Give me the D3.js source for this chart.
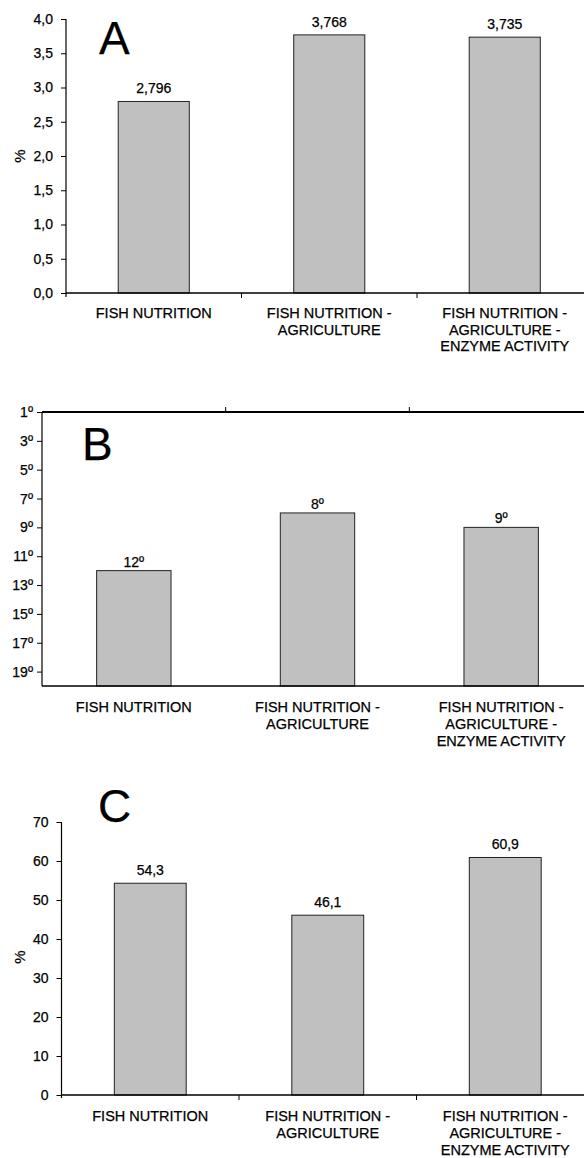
<!DOCTYPE html>
<html>
<head>
<meta charset="utf-8">
<script src="https://cdn.jsdelivr.net/npm/d3@7"></script>
<style>
html,body{margin:0;padding:0;background:#fff;}
svg{display:block;font-family:"Liberation Sans",Arial,sans-serif;}
svg text{stroke:#000;stroke-width:0.25px;}
</style>
</head>
<body>
<svg id="c" width="584" height="1158"></svg>
<script>
const categories = ["FISH NUTRITION", "FISH NUTRITION - AGRICULTURE", "FISH NUTRITION - AGRICULTURE - ENZYME ACTIVITY"];
const categoryLines = [["FISH NUTRITION"], ["FISH NUTRITION -", "AGRICULTURE"], ["FISH NUTRITION -", "AGRICULTURE -", "ENZYME ACTIVITY"]];
const valuesA = [2.796, 3.768, 3.735];
const labelsA = ["2,796", "3,768", "3,735"];
const ticksA = [0, 0.5, 1, 1.5, 2, 2.5, 3, 3.5, 4];
const tickLabelsA = ["0,0", "0,5", "1,0", "1,5", "2,0", "2,5", "3,0", "3,5", "4,0"];
const valuesB = [12, 8, 9];
const labelsB = ["12º", "8º", "9º"];
const ticksB = [1, 3, 5, 7, 9, 11, 13, 15, 17, 19];
const tickLabelsB = ["1º", "3º", "5º", "7º", "9º", "11º", "13º", "15º", "17º", "19º"];
const valuesC = [54.3, 46.1, 60.9];
const labelsC = ["54,3", "46,1", "60,9"];
const ticksC = [0, 10, 20, 30, 40, 50, 60, 70];
const tickLabelsC = ["0", "10", "20", "30", "40", "50", "60", "70"];

const svg = d3.select("#c");
const FS = 14;
const CAT_FS = 14.5;
const BAR_FRAC = 0.405;

function drawPanel(cfg) {
  const g = svg.append("g");
  const x = d3.scaleBand().domain(categories).range(cfg.xRange).padding(0);
  const y = d3.scaleLinear().domain(cfg.yDomain).range(cfg.yRange);
  const bw = x.bandwidth() * BAR_FRAC;

  // bars
  g.selectAll("rect.bar").data(cfg.values).enter().append("rect")
    .attr("x", (d, i) => x(categories[i]) + (x.bandwidth() - bw) / 2)
    .attr("width", bw)
    .attr("y", d => Math.min(y(d), y(cfg.base)))
    .attr("height", d => Math.abs(y(cfg.base) - y(d)))
    .attr("fill", "#c0c0c0")
    .attr("stroke", "#222")
    .attr("stroke-width", 1);

  // value labels
  g.selectAll("text.val").data(cfg.values).enter().append("text")
    .attr("x", (d, i) => x(categories[i]) + x.bandwidth() / 2)
    .attr("y", d => y(d) - cfg.valGap)
    .attr("text-anchor", "middle")
    .attr("font-size", FS)
    .attr("fill", "#000")
    .text((d, i) => cfg.labels[i]);

  // y axis
  const yAxis = d3.axisLeft(y).tickValues(cfg.ticks).tickSize(5).tickPadding(cfg.tickPad)
    .tickFormat((d, i) => cfg.tickLabels[i]);
  const ya = g.append("g").attr("transform", `translate(${cfg.xRange[0]},0)`).call(yAxis);
  ya.select(".domain").remove();
  ya.selectAll(".tick line").attr("stroke", "#000");
  ya.selectAll(".tick text").attr("font-size", FS).attr("fill", "#000")
    .attr("font-family", "Liberation Sans, Arial, sans-serif");
  g.append("line")
    .attr("x1", cfg.xRange[0]).attr("x2", cfg.xRange[0])
    .attr("y1", cfg.yAxisTop).attr("y2", cfg.yAxisBottom)
    .attr("stroke", "#000").attr("stroke-width", 1.2);

  // x axis line(s)
  const xAxisY = y(cfg.base);
  g.append("line")
    .attr("x1", cfg.xRange[0]).attr("x2", 584)
    .attr("y1", xAxisY).attr("y2", xAxisY)
    .attr("stroke", "#000").attr("stroke-width", 1.5);
  const bounds = categories.slice(1).map(c => x(c));
  if (cfg.topLine) {
    const ty = y(cfg.yDomain[0]);
    g.append("line")
      .attr("x1", cfg.xRange[0]).attr("x2", 584)
      .attr("y1", ty).attr("y2", ty)
      .attr("stroke", "#000").attr("stroke-width", 2);
    g.selectAll("line.tt").data(bounds).enter().append("line")
      .attr("x1", d => d).attr("x2", d => d)
      .attr("y1", ty).attr("y2", ty - 5)
      .attr("stroke", "#000").attr("stroke-width", 1);
  } else {
    g.selectAll("line.bt").data(bounds).enter().append("line")
      .attr("x1", d => d).attr("x2", d => d)
      .attr("y1", xAxisY).attr("y2", xAxisY + 5)
      .attr("stroke", "#000").attr("stroke-width", 1);
  }

  // category labels
  categoryLines.forEach((lines, i) => {
    const cx = x(categories[i]) + x.bandwidth() / 2;
    const t = g.append("text")
      .attr("text-anchor", "middle")
      .attr("font-size", CAT_FS)
      .attr("fill", "#000");
    lines.forEach((ln, j) => {
      t.append("tspan").attr("x", cx)
        .attr("y", cfg.catY + j * cfg.lineH)
        .text(ln);
    });
  });

  // % label
  if (cfg.unit) {
    g.append("text")
      .attr("transform", `translate(${cfg.unit[0]},${cfg.unit[1]}) rotate(-90)`)
      .attr("text-anchor", "middle")
      .attr("dominant-baseline", "central")
      .attr("font-size", 15)
      .text("%");
  }

  // panel letter
  g.append("text")
    .attr("x", cfg.letter[1]).attr("y", cfg.letter[2])
    .attr("font-size", 46)
    .attr("fill", "#000")
    .attr("stroke-width", 0)
    .text(cfg.letter[0]);
}

drawPanel({
  values: valuesA, labels: labelsA, ticks: ticksA, tickLabels: tickLabelsA,
  xRange: [66, 592.5], yDomain: [0, 4], yRange: [293, 19], base: 0,
  yAxisTop: 19, yAxisBottom: 297, tickPad: 8, valGap: 8,
  catY: 318, lineH: 16.5, unit: [19, 156], letter: ["A", 99, 54]
});

drawPanel({
  values: valuesB, labels: labelsB, ticks: ticksB, tickLabels: tickLabelsB,
  xRange: [42, 593], yDomain: [1, 20], yRange: [412, 686], base: 20, topLine: true,
  yAxisTop: 412, yAxisBottom: 686, tickPad: 4, valGap: 4,
  catY: 712, lineH: 17, unit: null, letter: ["B", 82, 460]
});

drawPanel({
  values: valuesC, labels: labelsC, ticks: ticksC, tickLabels: tickLabelsC,
  xRange: [61.5, 594], yDomain: [0, 70], yRange: [1095, 822], base: 0,
  yAxisTop: 822, yAxisBottom: 1098, tickPad: 8, valGap: 8,
  catY: 1121, lineH: 17, unit: [19, 957], letter: ["C", 98, 822]
});
</script>
</body>
</html>
